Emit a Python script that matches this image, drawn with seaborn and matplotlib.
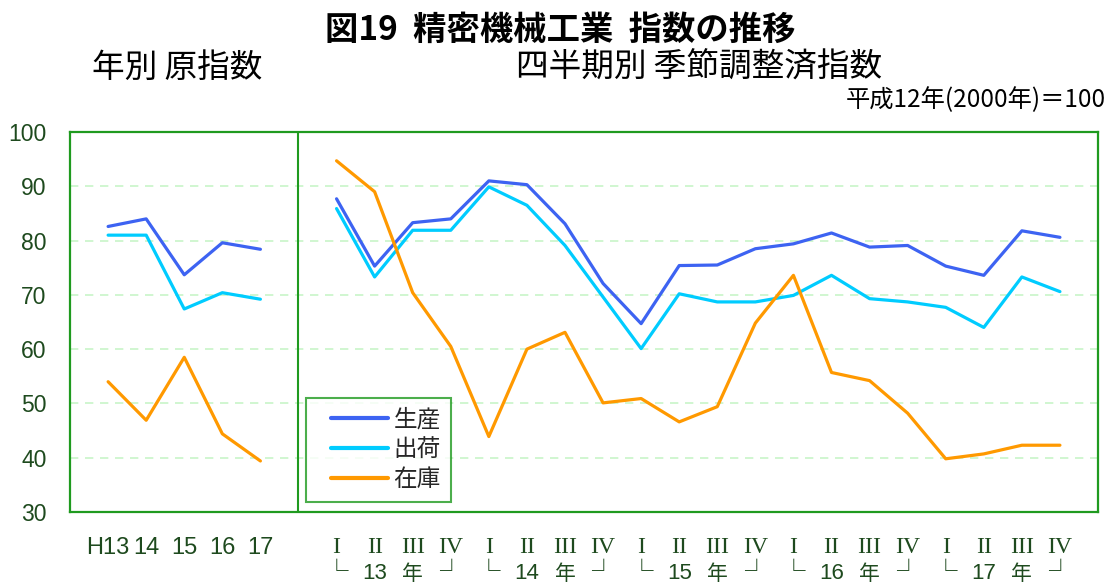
import matplotlib
matplotlib.use("Agg")
import matplotlib.pyplot as plt
import seaborn as sns
import numpy as np
from matplotlib.lines import Line2D
from matplotlib.legend_handler import HandlerLine2D

years = ["H13", "14", "15", "16", "17"]
prod_year = [82.6, 84.0, 73.7, 79.6, 78.4]
ship_year = [81.0, 81.0, 67.4, 70.4, 69.2]
inv_year = [54.0, 46.9, 58.5, 44.4, 39.4]

quarter_names = ["I", "II", "III", "IV"]
quarter_years = ["13", "14", "15", "16", "17"]
prod_q = [87.7, 75.3, 83.3, 84.0, 91.0, 90.3, 83.1, 72.1, 64.7, 75.4,
          75.5, 78.5, 79.4, 81.4, 78.8, 79.1, 75.3, 73.6, 81.8, 80.6]
ship_q = [85.9, 73.3, 81.9, 81.9, 89.9, 86.5, 79.1, 69.6, 60.1, 70.2,
          68.7, 68.7, 69.9, 73.6, 69.3, 68.7, 67.7, 64.0, 73.3, 70.6]
inv_q = [94.7, 89.0, 70.4, 60.5, 43.9, 60.0, 63.1, 50.1, 50.9, 46.6,
         49.4, 64.8, 73.6, 55.7, 54.2, 48.2, 39.8, 40.7, 42.3, 42.3]

series = [
    ("生産", prod_year, prod_q, "#3d63f2"),
    ("出荷", ship_year, ship_q, "#00ccff"),
    ("在庫", inv_year, inv_q, "#ff9900"),
]

sns.set_theme(style="white")
plt.rcParams["font.family"] = ["Noto Sans CJK JP", "DejaVu Sans"]

GREEN = "#1f9a1f"
TXT = "#1e4a1e"

fig = plt.figure(figsize=(11.1, 5.86), dpi=100)
ax = fig.add_axes([0.0631, 0.1263, 0.9261, 0.6484])

x_year = np.arange(1, len(years) + 1)
x_q = np.arange(7, 7 + len(prod_q))

for name, yv, qv, col in series:
    sns.lineplot(x=x_year, y=yv, ax=ax, color=col, linewidth=2.3)
    sns.lineplot(x=x_q, y=qv, ax=ax, color=col, linewidth=2.3)

ax.set_xlim(0, 27)
ax.set_ylim(30, 100)
ax.axvline(6, color=GREEN, linewidth=1.5)

for v in range(40, 100, 10):
    ax.axhline(v, color="#c8f5c8", linestyle=(0, (5, 4)), linewidth=1.2, zorder=0)

for s in ax.spines.values():
    s.set_color(GREEN)
    s.set_linewidth(1.6)

ax.set_yticks(range(30, 101, 10))
ax.set_yticklabels([str(v) for v in range(30, 101, 10)],
                   family="Liberation Sans", fontsize=16.5, color=TXT)
ax.tick_params(axis="y", direction="in", length=4, width=1.2, color=GREEN, pad=17)

# first row: roman numerals / year labels as tick labels
qlabels = [quarter_names[i % 4] for i in range(len(prod_q))]
ax.set_xticks(list(x_year) + list(x_q))
ax.set_xticklabels(years + qlabels, color=TXT)
ax.tick_params(axis="x", direction="in", length=7, width=1.3, color=GREEN, pad=18)
for i, lbl in enumerate(ax.get_xticklabels()):
    if i < len(years):
        lbl.set_family("Liberation Sans")
    else:
        lbl.set_family("Liberation Serif")
    lbl.set_fontsize(17)
ax.set_xlabel("")
ax.set_ylabel("")

# second row: └ 13 年 ┘ under each year's quarters
tr = ax.get_xaxis_transform()
for i, xq in enumerate(x_q):
    q = i % 4
    part = ["└", quarter_years[i // 4], "年", "┘"][q]
    if q in (0, 3):
        ax.text(xq, -0.158, part, transform=tr, ha="center", va="center",
                fontsize=17, color=TXT, family="Noto Sans CJK JP",
                fontweight="bold")
    elif q == 1:
        ax.text(xq, -0.162, part, transform=tr, ha="center", va="center",
                fontsize=16, color=TXT, family="Liberation Sans")
    else:
        ax.text(xq, -0.162, part, transform=tr, ha="center", va="center",
                fontsize=15, color=TXT)

handles = [Line2D([0], [0], color=c, linewidth=3) for _, _, _, c in series]
leg = ax.legend(handles, [n for n, _, _, _ in series], loc="lower left",
                bbox_to_anchor=(0.2296, 0.026), fontsize=17, frameon=True,
                fancybox=False, handlelength=3.0, handletextpad=0.25,
                borderpad=0.45, labelspacing=0.3, borderaxespad=0,
                handler_map={Line2D: HandlerLine2D(xpad=0.6)})
leg.get_frame().set_edgecolor(GREEN)
leg.get_frame().set_linewidth(1.5)

fig.text(0.505, 0.948, "図19  精密機械工業  指数の推移", ha="center", va="center",
         fontsize=24, fontweight="bold", color="black")
fig.text(0.160, 0.884, "年別 原指数", ha="center", va="center", fontsize=23.5, color="black")
fig.text(0.630, 0.884, "四半期別 季節調整済指数", ha="center", va="center", fontsize=23.5, color="black")
fig.text(0.996, 0.829, "平成12年(2000年)＝100", ha="right", va="center", fontsize=17.5, color="black")

fig.savefig("out.png", dpi=100)
